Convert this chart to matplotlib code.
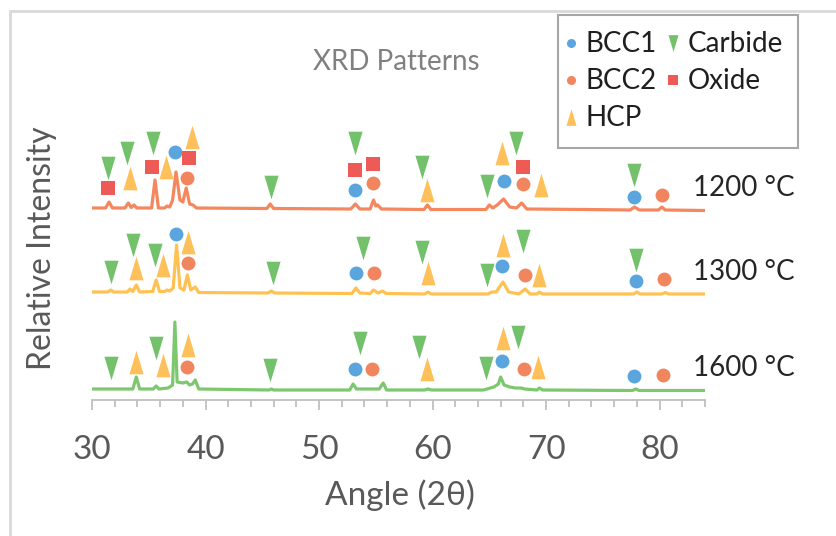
import matplotlib
matplotlib.use("Agg")
import matplotlib.pyplot as plt
from matplotlib.lines import Line2D
from matplotlib.patches import Rectangle

plt.rcParams['font.family'] = ['Lato', 'DejaVu Sans']

# ---------------- data ----------------
# XRD traces: angle (2θ) and stacked relative intensity
t1200_angle = [30.0, 31.2, 31.5, 31.8, 32.9, 33.2, 33.45, 33.7, 33.95, 35.25, 35.55, 35.85, 36.4, 36.6,
               36.85, 37.1, 37.4, 37.75, 38.0, 38.3, 38.6, 38.9, 39.2, 45.4, 45.7, 46.0, 52.8, 53.2,
               53.6, 54.5, 54.8, 55.0, 55.15, 55.5, 59.25, 59.55, 59.85, 64.7, 65.0, 65.3, 65.7, 66.25,
               66.8, 67.4, 67.85, 68.3, 73.5, 77.4, 77.8, 78.2, 79.9, 80.2, 80.5, 84.0]
t1200_int = [192, 192, 198, 192, 192, 197, 192.5, 195, 192, 192, 220, 192, 192, 194,
             193, 200, 228, 200, 198, 212, 196, 195, 192, 191.5, 196, 191.5, 191, 196,
             191, 191, 200, 194, 195, 191, 190.5, 195, 190.5, 190.5, 195, 192, 195, 201,
             193, 192, 197, 191, 190.5, 190, 193, 190, 190, 193, 190, 189.5]

t1300_angle = [30.0, 31.4, 31.65, 31.9, 33.1, 33.35, 33.6, 33.9, 34.2, 35.35, 35.65, 35.95, 36.4, 36.6,
               36.85, 37.15, 37.45, 37.75, 38.1, 38.4, 38.7, 39.1, 39.4, 45.5, 45.8, 46.1, 52.9, 53.25,
               53.6, 54.5, 54.8, 55.2, 55.6, 55.9, 59.3, 59.6, 59.9, 64.9, 65.2, 65.6, 66.2, 66.7,
               67.6, 68.15, 68.6, 69.2, 69.4, 69.7, 77.7, 78.0, 78.3, 80.2, 80.5, 80.8, 84.0]
t1300_int = [108, 108, 110, 108, 108, 111, 108.5, 115, 108, 108.5, 120, 108.5, 108.5, 110,
             109, 112, 155, 112, 110, 125, 110, 113, 107.5, 107, 109, 107, 106.5, 112,
             107, 106.5, 110, 107, 109, 106.5, 106, 108, 106, 106, 108, 108, 118, 108,
             106, 111, 106, 106, 108, 106, 106, 108, 106, 106, 107.5, 106, 106]

t1600_angle = [30.0, 33.6, 33.9, 34.2, 35.4, 35.65, 35.9, 36.7, 37.1, 37.3, 37.5, 38.0, 38.35, 38.6,
               38.85, 39.1, 39.4, 45.6, 45.8, 46.0, 52.7, 53.0, 53.3, 54.5, 55.3, 55.65, 55.95, 59.3,
               59.6, 59.9, 64.5, 65.4, 65.8, 66.0, 66.3, 66.8, 67.3, 67.8, 68.1, 69.2, 69.4, 69.7,
               77.6, 77.9, 78.2, 84.0]
t1600_int = [11, 11, 23, 11, 11, 14, 11, 12, 15, 78, 18, 17, 18, 15,
             16, 20, 11, 10, 11, 10, 10, 16, 11, 11, 11, 17, 10, 10,
             11, 10, 10, 13, 16, 23, 15, 13, 12, 12, 11, 10, 12, 10,
             9.5, 11, 9.5, 9.5]

trace_labels = ['1200 °C', '1300 °C', '1600 °C']

# phase markers: angle, vertical position
bcc1_angle = [37.31, 53.17, 66.3, 77.78, 37.4, 53.3, 66.15, 77.93, 53.17, 66.1, 77.75]
bcc1_y = [248.3, 210, 219.3, 202.7, 166, 126.7, 134, 119.3, 30.7, 39.3, 24]

bcc2_angle = [38.34, 54.78, 68.0, 80.25, 38.43, 54.87, 68.15, 80.4, 38.4, 54.64, 68.06, 80.28]
bcc2_y = [221.7, 217.3, 216, 205, 137.3, 126.7, 125, 120.7, 32.7, 30.7, 30.7, 25]

hcp_angle = [33.35, 36.52, 38.78, 59.55, 66.1, 69.56, 33.88, 36.28, 38.49, 59.63, 66.24, 69.41,
             33.88, 36.23, 38.49, 59.48, 66.18, 69.32]
hcp_y = [221.7, 233.3, 263.3, 210, 247.3, 215, 131.7, 135, 158.3, 126.7, 155, 125,
         38.3, 35, 55, 30.7, 61.7, 32.7]

carbide_angle = [31.44, 33.05, 35.35, 45.74, 53.17, 59.05, 64.83, 67.36, 77.75,
                 31.65, 33.64, 35.55, 45.92, 53.9, 59.05, 64.78, 67.95, 77.93,
                 31.65, 35.64, 45.68, 53.6, 58.84, 64.71, 67.56]
carbide_y = [231.7, 246.7, 256.7, 213.3, 256.7, 233.3, 214, 256.7, 225,
             128.3, 155, 145, 126.7, 151.7, 148.3, 125, 159.3, 140,
             31.7, 51.7, 30, 56.7, 53.3, 31.7, 62.7]

oxide_angle = [31.38, 35.26, 38.57, 53.2, 54.73, 67.95]
oxide_y = [211.7, 233.3, 241.7, 230, 236, 232.7]

phase_names = ['BCC1', 'BCC2', 'HCP', 'Carbide', 'Oxide']
x_ticks = [30, 40, 50, 60, 70, 80]

# ---------------- style ----------------
c1200, c1300, c1600 = '#F4875E', '#FFC252', '#7DC86E'
c_bcc1, c_bcc2, c_hcp, c_carb, c_ox = '#5AA5DD', '#F1855E', '#FEC05B', '#74C16C', '#EE5B57'
tri_up = [(-0.6, -1), (0.6, -1), (0, 1)]
tri_dn = [(-0.6, 1), (0.6, 1), (0, -1)]

W, H = 836, 536
fig = plt.figure(figsize=(W / 100, H / 100), dpi=100)


def fx(px):
    return px / W


def fy(py):
    return 1 - py / H


fig.add_artist(Rectangle((fx(10), -0.05), 1.0, fy(11) + 0.05, transform=fig.transFigure,
                         fill=False, ec='#D9D9D9', lw=2))
ax = fig.add_axes([fx(92), fy(400), (705 - 92) / W, 310 / H])
ax.set_xlim(30, 84)
ax.set_ylim(0, 310)

for a, i, c in [(t1200_angle, t1200_int, c1200), (t1300_angle, t1300_int, c1300),
                (t1600_angle, t1600_int, c1600)]:
    ax.plot(a, i, color=c, lw=2.3, solid_joinstyle='round', zorder=2)

mk = dict(linestyle='none', markeredgewidth=0, clip_on=False, zorder=3)
ax.plot(bcc1_angle, bcc1_y, marker='o', ms=10, color=c_bcc1, **mk)
ax.plot(bcc2_angle, bcc2_y, marker='o', ms=10, color=c_bcc2, **mk)
ax.plot(hcp_angle, hcp_y, marker=tri_up, ms=17, color=c_hcp, **mk)
ax.plot(carbide_angle, carbide_y, marker=tri_dn, ms=17, color=c_carb, **mk)
ax.plot(oxide_angle, oxide_y, marker='s', ms=10, color=c_ox, **mk)

for sp in ['left', 'right', 'top']:
    ax.spines[sp].set_visible(False)
ax.spines['bottom'].set_color('#BFBFBF')
ax.spines['bottom'].set_linewidth(1.3)
ax.set_yticks([])
ax.set_xticks(x_ticks)
ax.set_xticks(range(30, 85, 2), minor=True)
ax.tick_params(axis='x', which='major', length=7.5, width=1.3, color='#BFBFBF',
               labelsize=24, labelcolor='#595959', pad=18)
ax.tick_params(axis='x', which='minor', length=5, width=1.3, color='#BFBFBF')
ax.set_xlabel('Angle (2θ)', fontsize=24, color='#595959')
ax.xaxis.label.set_va('center')
ax.xaxis.set_label_coords((400 - 92) / 613, (400 - 495) / 310)
ax.set_ylabel('Relative Intensity', fontsize=23, color='#595959')
ax.yaxis.label.set_va('center')
ax.yaxis.set_label_coords((42 - 92) / 613, (400 - 248) / 310)

fig.text(fx(396), fy(62), 'XRD Patterns', ha='center', va='center', fontsize=20,
         color='#808080')

for lab, ypx in zip(trace_labels, [188, 272, 368]):
    fig.text(fx(693), fy(ypx), lab, ha='left', va='center', fontsize=20, color='#262626')

# legend (drawn as a framed key box)
fig.add_artist(Rectangle((fx(558), fy(148)), (798 - 558) / W, (148 - 15) / H,
                         transform=fig.transFigure, fill=True, fc='white', ec='#A6A6A6', lw=1.5,
                         zorder=5))
leg_styles = [('o', 6.5, c_bcc1), ('o', 6.5, c_bcc2), (tri_up, 12, c_hcp),
              (tri_dn, 12, c_carb), ('s', 7.5, c_ox)]
leg_pos = [(571, 43), (571, 80), (571, 117), (673, 43), (673, 80)]
for name, (m, s, c), (px, py) in zip(phase_names, leg_styles, leg_pos):
    fig.add_artist(Line2D([fx(px)], [fy(py)], marker=m, ms=s, mew=0, ls='none', color=c,
                          transform=fig.transFigure, zorder=6))
    fig.text(fx(px + 15), fy(py + 1), name, ha='left', va='center', fontsize=20,
             color='#1F1F1F', zorder=6)

fig.savefig('out.png', dpi=100)
